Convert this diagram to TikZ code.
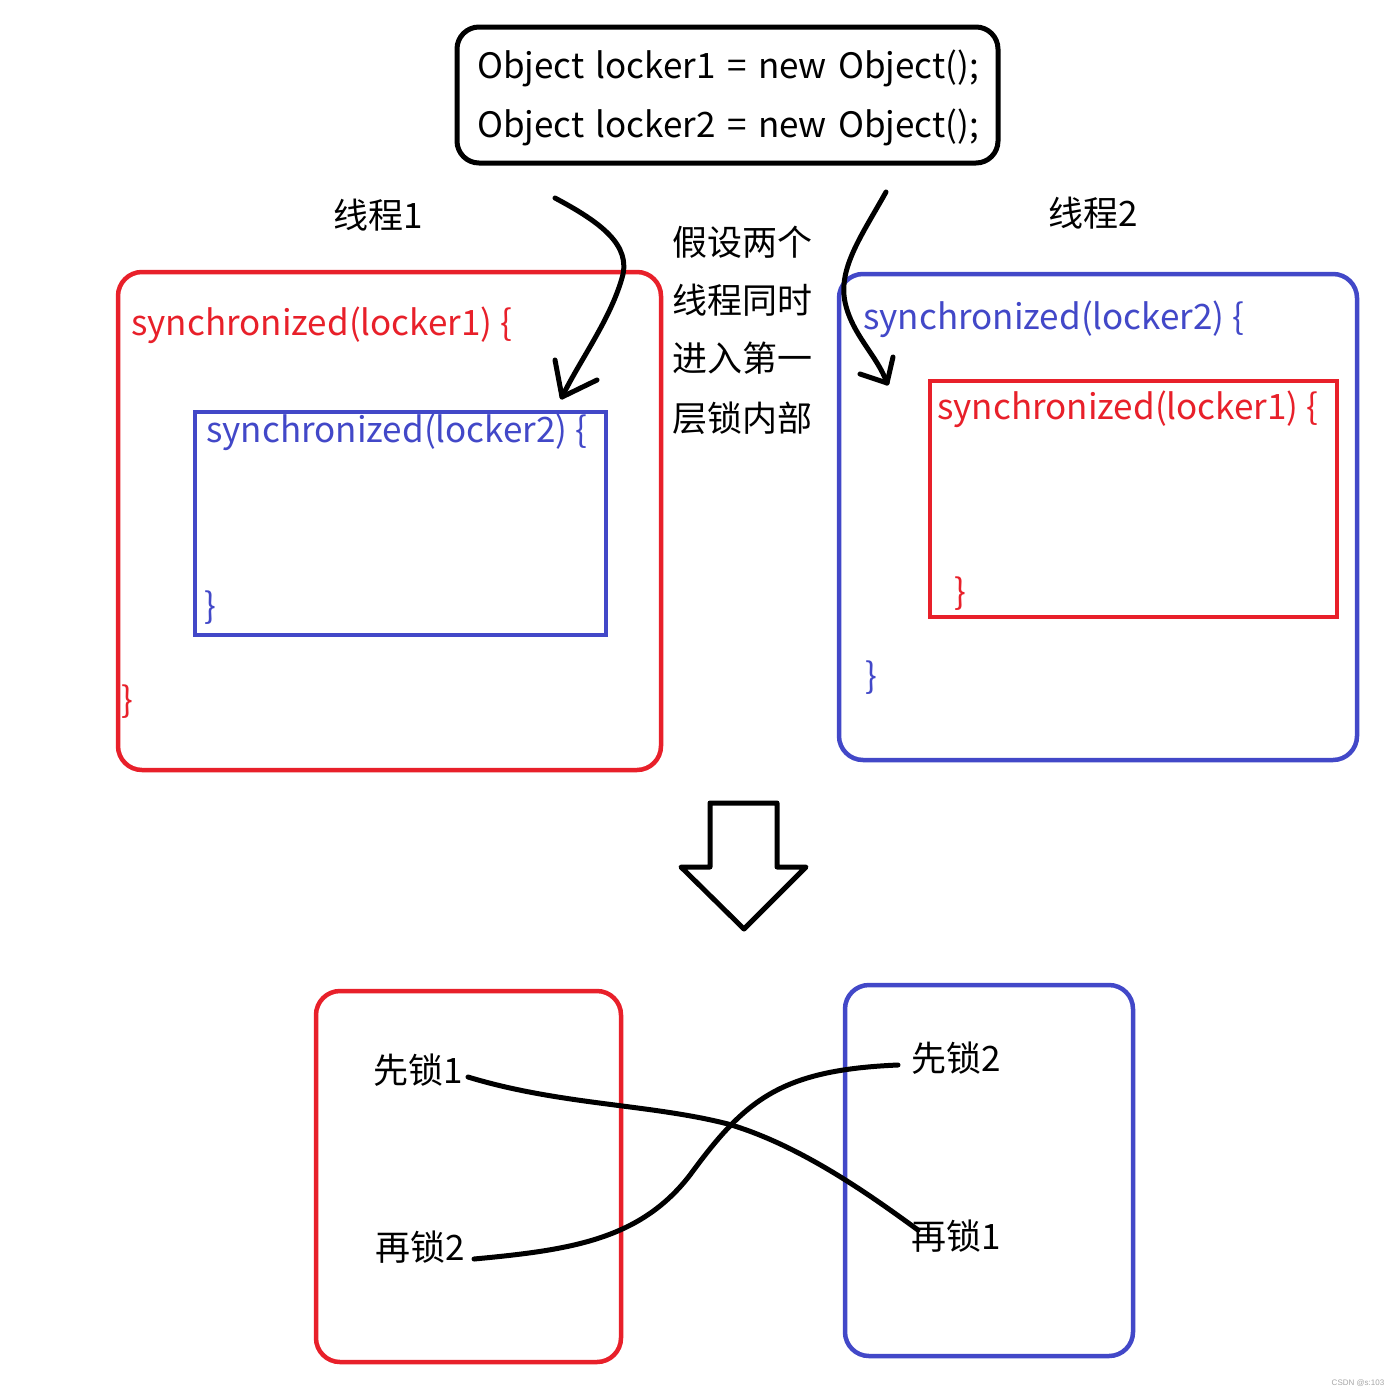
\documentclass[tikz,border=0pt]{standalone}
\usepackage{fontspec}
\setmainfont{Noto Sans CJK SC}
\newfontfamily\declfont[WordSpace=1.45]{Noto Sans CJK SC}
\newfontfamily\wmfont{Liberation Sans}
\definecolor{lockred}{RGB}{232,32,42}
\definecolor{lockblue}{RGB}{66,72,200}
\begin{document}
\begin{tikzpicture}[x=1pt,y=-1pt,
  codetxt/.style={anchor=west,inner sep=0pt,font=\fontsize{35}{42}\selectfont},
  decltxt/.style={anchor=west,inner sep=0pt,font=\declfont\fontsize{35}{42}\selectfont},
  cjktxt/.style={inner sep=0pt,font=\fontsize{35}{42}\selectfont},
  rbox/.style={draw=lockred,line width=4.5pt,rounded corners=24pt},
  bbox/.style={draw=lockblue,line width=4.5pt,rounded corners=24pt},
  rrect/.style={draw=lockred,line width=4.5pt},
  brect/.style={draw=lockblue,line width=4.5pt},
  pen/.style={draw=black,line width=5pt,line cap=round,line join=round}]
\useasboundingbox (0,0) rectangle (1400,1395);
\fill[white] (0,0) rectangle (1400,1395);

% top declaration box
\draw[pen,line width=5pt,rounded corners=22pt] (457,27) rectangle (998,163);
\node[decltxt] (decl1) at (477,68) {Object locker1 = new Object();};
\node[decltxt] (decl2) at (477,127) {Object locker2 = new Object();};

% thread labels
\node[cjktxt] (t1) at (378,215) {线程1};
\node[cjktxt] (t2) at (1093,213) {线程2};

% middle note
\node[cjktxt,anchor=west] (n1) at (672,242) {假设两个};
\node[cjktxt,anchor=west] (n2) at (672,300) {线程同时};
\node[cjktxt,anchor=west] (n3) at (672,358) {进入第一};
\node[cjktxt,anchor=west] (n4) at (672,418) {层锁内部};

% thread 1 block
\draw[rbox] (118,272) rectangle (661,770);
\node[codetxt,text=lockred] (s11) at (131,325) {synchronized(locker1) \{};
\draw[brect] (195,412) rectangle (606,635);
\node[codetxt,text=lockblue] (s12) at (206,432) {synchronized(locker2) \{};
\node[codetxt,text=lockblue] (e12) at (204,608) {\}};
\node[codetxt,text=lockred] (e11) at (121,702) {\}};

% thread 2 block
\draw[bbox] (839,274) rectangle (1357,760);
\node[codetxt,text=lockblue] (s21) at (863,319) {synchronized(locker2) \{};
\draw[rrect] (930,381) rectangle (1337,617);
\node[codetxt,text=lockred] (s22) at (937,409) {synchronized(locker1) \{};
\node[codetxt,text=lockred] (e22) at (954,594) {\}};
\node[codetxt,text=lockblue] (e21) at (865,678) {\}};

% entry arrows
\coordinate (a1s) at (555,198);
\coordinate (a1e) at (562,397);
\draw[pen] (a1s) .. controls (600,222) and (632,245) .. (622,278)
  .. controls (610,320) and (580,360) .. (a1e);
\draw[pen] (555,360) -- (a1e) -- (597,380);
\coordinate (a2s) at (886,192);
\coordinate (a2e) at (887,383);
\draw[pen] (a2s) .. controls (862,235) and (838,268) .. (845,302)
  .. controls (852,335) and (877,355) .. (a2e);
\draw[pen] (860,374) -- (a2e) -- (893,357);

% big hollow arrow
\draw[pen,line cap=butt] (710,803) -- (777,803) -- (777,867) -- (806,867)
  -- (744,929) -- (681,867) -- (710,867) -- cycle;

% bottom boxes
\draw[rbox] (316,991) rectangle (621,1362);
\draw[bbox] (845,985) rectangle (1133,1356);
\node[cjktxt] (x1) at (418,1070) {先锁1};
\node[cjktxt] (y2) at (420,1247) {再锁2};
\node[cjktxt] (x2) at (956,1058) {先锁2};
\node[cjktxt] (y1) at (956,1236) {再锁1};

\coordinate (c1s) at (468,1077);
\coordinate (c1e) at (918,1230);
\coordinate (c2s) at (474,1259);
\coordinate (c2e) at (898,1065);
\draw[pen] (c1s) .. controls (560,1105) and (650,1104) .. (728,1124)
  .. controls (800,1145) and (870,1195) .. (c1e);
\draw[pen] (c2s) .. controls (570,1250) and (640,1240) .. (690,1175)
  .. controls (745,1100) and (780,1070) .. (c2e);

% watermark
\node[inner sep=0pt,text=black!35,font=\wmfont\fontsize{8}{9}\selectfont] (wm) at (1358,1383) {CSDN @s:103};
\end{tikzpicture}
\end{document}
